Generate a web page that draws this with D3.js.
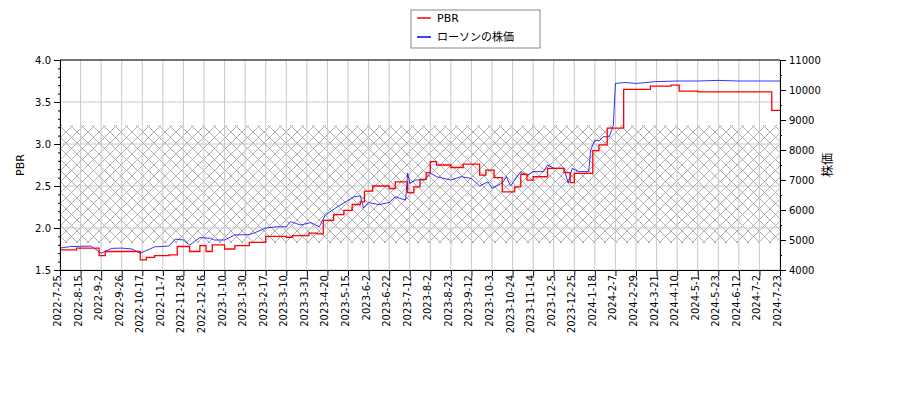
<!DOCTYPE html>
<html><head><meta charset="utf-8">
<script src="https://cdn.jsdelivr.net/npm/d3@7"></script>
<style>
body{margin:0;background:#fff;font-family:"DejaVu Sans",sans-serif;}
text{font-family:"DejaVu Sans","Noto Sans CJK JP",sans-serif;}
</style></head><body><div id="chart"></div>
<script>
// ラベル（3週間ごと）
const tickLabels = ["2022-7-25","2022-8-15","2022-9-2","2022-9-26","2022-10-17","2022-11-7","2022-11-28","2022-12-16","2023-1-10","2023-1-30","2023-2-17","2023-3-10","2023-3-31","2023-4-20","2023-5-15","2023-6-2","2023-6-22","2023-7-12","2023-8-2","2023-8-23","2023-9-12","2023-10-3","2023-10-24","2023-11-14","2023-12-5","2023-12-25","2024-1-18","2024-2-7","2024-2-29","2024-3-21","2024-4-10","2024-5-1","2024-5-23","2024-6-12","2024-7-2","2024-7-23"];

// PBR（ステップ）: 位置はティック番号単位
const pbrPos = [0,0.8,1.9,2.2,3.9,4.2,4.6,5.3,5.7,6.3,6.8,7.1,7.4,8,8.5,9.2,10,11,11.3,12.1,12.5,12.8,13.3,13.8,14.2,14.6,14.8,15.2,16,16.3,16.9,17.2,17.5,17.8,18,18.3,19,19.6,20.4,20.7,21.1,21.5,22.1,22.4,22.7,23,23.7,24.5,24.8,25,25.9,26.2,26.6,27.4,28.7,29.7,30.1,31,34.6,35];
const pbrVal = [1.74,1.76,1.67,1.72,1.62,1.65,1.67,1.68,1.78,1.72,1.79,1.72,1.80,1.75,1.79,1.83,1.90,1.89,1.91,1.94,1.93,2.09,2.16,2.21,2.28,2.31,2.44,2.50,2.47,2.55,2.42,2.49,2.58,2.66,2.79,2.75,2.72,2.76,2.63,2.69,2.60,2.43,2.49,2.64,2.57,2.61,2.71,2.66,2.54,2.65,2.92,2.99,3.19,3.65,3.69,3.70,3.63,3.62,3.40,3.40];

// ローソンの株価
const pricePos = [0,0.5,1,1.5,2,2.5,3,3.5,3.9,4.6,5.3,5.6,6,6.3,6.8,7.3,7.5,8,8.5,9.2,9.5,10,10.5,11,11.2,11.7,12.2,12.6,12.9,13.4,13.9,14.3,14.6,14.75,15,15.5,16,16.3,16.8,16.9,17,17.3,17.7,18,18.3,19,19.5,20,20.4,20.8,21,21.5,21.7,21.9,22.4,22.7,23,23.5,23.7,24,24.5,24.7,24.9,25.2,25.7,25.8,26,26.2,26.4,26.7,26.9,27,27.5,28,29,30,31,32,33,34,35];
const priceVal = [4730,4780,4790,4800,4560,4720,4730,4700,4560,4770,4800,5030,5000,4830,5080,5060,5000,5000,5170,5180,5250,5400,5440,5440,5610,5500,5580,5440,5830,6070,6280,6440,6470,6070,6250,6180,6250,6440,6330,7230,6890,7000,7000,7230,7110,7000,7110,7050,6800,6940,6730,6900,7110,6800,7280,7150,7280,7280,7500,7390,7390,6900,7390,7280,7280,8000,8330,8300,8440,8440,8830,10220,10250,10220,10280,10300,10300,10320,10300,10300,10300,10300];

const width = 900, height = 400;
const margin = {top: 60, right: 120, bottom: 130, left: 60};
const x0 = margin.left, x1 = width - margin.right, y0 = height - margin.bottom, y1 = margin.top;

const svg = d3.select("#chart").append("svg").attr("width", width).attr("height", height);

const x = d3.scaleLinear().domain([0, tickLabels.length - 1]).range([x0, x1]);
const y = d3.scaleLinear().domain([1.5, 4.0]).range([y0, y1]);
const y2 = d3.scaleLinear().domain([4000, 11000]).range([y0, y1]);

// ハッチ模様
const defs = svg.append("defs");
const pat = defs.append("pattern").attr("id", "hatch").attr("patternUnits", "userSpaceOnUse")
  .attr("width", 11).attr("height", 11);
pat.append("path").attr("d", "M0,0L11,11M11,0L0,11").attr("stroke", "#9a9a9a").attr("stroke-width", 0.8);
svg.append("rect").attr("x", x0).attr("width", x1 - x0)
  .attr("y", y(3.226)).attr("height", y(1.82) - y(3.226)).attr("fill", "url(#hatch)");

// グリッド
svg.append("g").selectAll("line").data(d3.range(tickLabels.length)).join("line")
  .attr("x1", d => x(d)).attr("x2", d => x(d)).attr("y1", y0).attr("y2", y1)
  .attr("stroke", "#c8c8c8").attr("stroke-width", 1);
svg.append("g").selectAll("line").data(d3.range(1.5, 4.01, 0.5)).join("line")
  .attr("x1", x0).attr("x2", x1).attr("y1", d => y(d)).attr("y2", d => y(d))
  .attr("stroke", "#c8c8c8").attr("stroke-width", 1);

// 線
const pbrData = pbrPos.map((p, i) => ({p, v: pbrVal[i]}));
const priceData = pricePos.map((p, i) => ({p, v: priceVal[i]}));
svg.append("path").datum(priceData).attr("fill", "none").attr("stroke", "blue").attr("stroke-width", 0.8)
  .attr("d", d3.line().x(d => x(d.p)).y(d => y2(d.v)));
svg.append("path").datum(pbrData).attr("fill", "none").attr("stroke", "red").attr("stroke-width", 1.3)
  .attr("d", d3.line().curve(d3.curveStepAfter).x(d => x(d.p)).y(d => y(d.v)));

// 軸
svg.append("g").attr("transform", `translate(0,${y0})`)
  .call(d3.axisBottom(x).tickValues(d3.range(tickLabels.length)).tickFormat(i => tickLabels[i]).tickSizeOuter(0))
  .call(g => g.selectAll("text").attr("transform", "rotate(-90)").attr("text-anchor", "end")
    .attr("x", -5).attr("y", -3).attr("dy", "0.35em").style("font-size", "10px").attr("fill", "#000"));
svg.append("g").attr("transform", `translate(${x0},0)`)
  .call(d3.axisLeft(y).tickValues(d3.range(1.5, 4.01, 0.1)).tickFormat(d => "").tickSize(2).tickSizeOuter(0));
svg.append("g").attr("transform", `translate(${x0},0)`)
  .call(d3.axisLeft(y).tickValues(d3.range(1.5, 4.01, 0.5)).tickFormat(d3.format(".1f")).tickSizeOuter(0))
  .call(g => g.selectAll("text").style("font-size", "10px").attr("fill", "#000"));
svg.append("g").attr("transform", `translate(${x1},0)`)
  .call(d3.axisRight(y2).tickValues(d3.range(4000, 11001, 500)).tickFormat(d => "").tickSize(2).tickSizeOuter(0));
svg.append("g").attr("transform", `translate(${x1},0)`)
  .call(d3.axisRight(y2).tickValues(d3.range(4000, 11001, 1000)).tickFormat(d => d).tickSizeOuter(0))
  .call(g => g.selectAll("text").style("font-size", "10px").attr("fill", "#000"));
svg.append("line").attr("x1", x0).attr("x2", x1).attr("y1", y1).attr("y2", y1).attr("stroke", "#000");

svg.append("text").attr("transform", `translate(24,${(y0 + y1) / 2}) rotate(-90)`)
  .attr("text-anchor", "middle").style("font-size", "11px").text("PBR");
svg.append("text").attr("transform", `translate(832,${(y0 + y1) / 2}) rotate(-90)`)
  .attr("text-anchor", "middle").style("font-size", "12px").text("株価");

// 凡例
const lg = svg.append("g").attr("transform", "translate(411,10)");
lg.append("rect").attr("width", 129).attr("height", 38).attr("fill", "#fff").attr("stroke", "#888");
[["PBR", "red"], ["ローソンの株価", "blue"]].forEach(([t, c], i) => {
  lg.append("line").attr("x1", 6).attr("x2", 20).attr("y1", 8 + i * 19).attr("y2", 8 + i * 19).attr("stroke", c).attr("stroke-width", 1.5);
  lg.append("text").attr("x", 26).attr("y", 8 + i * 19).attr("dy", "0.35em").style("font-size", "11px").text(t);
});
</script></body></html>
